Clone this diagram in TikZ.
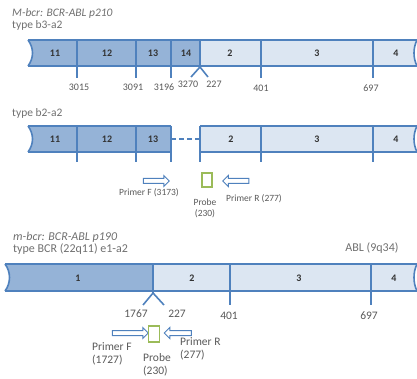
\documentclass[tikz,border=0pt]{standalone}
\usepackage{fontspec}
\setmainfont{Carlito}
\usetikzlibrary{shapes.arrows}
\definecolor{bcr}{HTML}{95B3D7}
\definecolor{abl}{HTML}{DCE6F2}
\definecolor{edge}{HTML}{4F81BD}
\definecolor{probe}{HTML}{9BBB59}
\definecolor{txt}{HTML}{595959}
\definecolor{ttlc}{HTML}{6F6F6F}
\begin{document}
\begin{tikzpicture}[x=1pt,y=-1pt,
  bline/.style={draw=edge,line width=1.6pt},
  tline/.style={draw=edge,line width=1.6pt},
  exon/.style={font=\fontsize{10}{11}\selectfont\bfseries,text=black!80,inner sep=0pt},
  num/.style={font=\fontsize{10}{11}\selectfont,text=txt,inner sep=0pt},
  numb/.style={font=\fontsize{11.5}{13}\selectfont,text=txt,inner sep=0pt},
  ttl/.style={font=\fontsize{11.5}{12}\selectfont,text=ttlc,anchor=west,inner sep=0pt},
  ttlb/.style={font=\fontsize{12}{12}\selectfont,text=ttlc,anchor=west,inner sep=0pt},
  ptxt/.style={font=\fontsize{9.5}{11}\selectfont,text=txt,inner sep=0pt,align=center},
  ptxtb/.style={font=\fontsize{11.5}{13}\selectfont,text=txt,inner sep=0pt,align=left},
  primer/.style={single arrow,draw=edge,fill=white,line width=1pt,minimum height=26pt,
    minimum width=11pt,single arrow head extend=3pt,inner sep=2pt},
  probebox/.style={draw=probe,line width=1.6pt,fill=white,minimum width=10pt,minimum height=14pt,inner sep=0pt}
]
\useasboundingbox (0,0) rectangle (417,379);

% ---------------- Bar 1: type b3-a2 ----------------
\node[ttl] (t1) at (12,13) {\textit{M-bcr: BCR-ABL p210}};
\node[ttl] (t1b) at (12,25) {type b3-a2};
\fill[bcr] (28,40) -- (200,40) -- (200,66) -- (28,66) .. controls (34,58) and (34,48) .. (28,40) -- cycle;
\fill[abl] (200,40) -- (417,40) .. controls (413,48) and (413,58) .. (417,66) -- (200,66) -- cycle;
\draw[bline] (28,40) -- (417,40);
\draw[bline] (28,66) -- (417,66);
\draw[bline] (28,40) .. controls (34,48) and (34,58) .. (28,66);
\draw[bline] (417,40) .. controls (413,48) and (413,58) .. (417,66);
\foreach \x in {77,136,171,261,373} \draw[tline] (\x,40) -- (\x,78);
\draw[tline] (200,40) -- (200,67);
\coordinate (v1) at (200,67);
\coordinate (v1l) at (191,77);
\coordinate (v1r) at (208,77);
\draw[tline] (v1l) -- (v1) -- (v1r);
\node[exon] (e11a) at (55,53) {11};
\node[exon] (e12a) at (107,53) {12};
\node[exon] (e13a) at (153,53) {13};
\node[exon] (e14a) at (186,53) {14};
\node[exon] (e2a) at (230,53) {2};
\node[exon] (e3a) at (317,53) {3};
\node[exon] (e4a) at (396,53) {4};
\node[num] (n3015) at (79,87) {3015};
\node[num] (n3091) at (133,87) {3091};
\node[num] (n3196) at (164,87) {3196};
\node[num] (n3270) at (188,84) {3270};
\node[num] (n227a) at (214,84) {227};
\node[num] (n401a) at (261,88) {401};
\node[num] (n697a) at (371,88) {697};

% ---------------- Bar 2: type b2-a2 ----------------
\node[ttl] (t2) at (12,113) {type b2-a2};
\fill[bcr] (28,126) -- (171,126) -- (171,152) -- (28,152) .. controls (34,144) and (34,134) .. (28,126) -- cycle;
\fill[abl] (200,126) -- (417,126) .. controls (413,134) and (413,144) .. (417,152) -- (200,152) -- cycle;
\draw[bline] (28,126) -- (171,126);
\draw[bline] (28,152) -- (171,152);
\draw[bline] (200,126) -- (417,126);
\draw[bline] (200,152) -- (417,152);
\draw[bline] (28,126) .. controls (34,134) and (34,144) .. (28,152);
\draw[bline] (417,126) .. controls (413,134) and (413,144) .. (417,152);
\foreach \x in {77,136,171,200,261,373} \draw[tline] (\x,126) -- (\x,162);
\draw[edge,line width=1.6pt,dash pattern=on 5pt off 3pt] (171,139) -- (200,139);
\node[exon] (e11b) at (55,139) {11};
\node[exon] (e12b) at (107,139) {12};
\node[exon] (e13b) at (153,139) {13};
\node[exon] (e2b) at (231,139) {2};
\node[exon] (e3b) at (317,139) {3};
\node[exon] (e4b) at (396,139) {4};
\node[primer] (pf1) at (155,181) {};
\node[probebox] (pb1) at (207,180) {};
\node[primer,shape border rotate=180] (pr1) at (237,181) {};
\node[ptxt] (pf1t) at (149,193) {Primer F (3173)};
\node[ptxt] (pb1t) at (205,208) {Probe\\(230)};
\node[ptxt] (pr1t) at (254,199) {Primer R (277)};

% ---------------- Bar 3: e1-a2 ----------------
\node[ttlb] (t3) at (13,237) {\textit{m-bcr: BCR-ABL p190}};
\node[ttlb] (t3b) at (13,249) {type BCR (22q11) e1-a2};
\node[ttlb,anchor=center] (abl) at (372,248) {ABL (9q34)};
\fill[bcr] (5,264) -- (153,264) -- (153,291) -- (5,291) .. controls (11,283) and (11,272) .. (5,264) -- cycle;
\fill[abl] (153,264) -- (417,264) .. controls (413,272) and (413,283) .. (417,291) -- (153,291) -- cycle;
\draw[bline] (5,264) -- (417,264);
\draw[bline] (5,291) -- (417,291);
\draw[bline] (5,264) .. controls (11,272) and (11,283) .. (5,291);
\draw[bline] (417,264) .. controls (413,272) and (413,283) .. (417,291);
\foreach \x in {230,371} \draw[tline] (\x,264) -- (\x,305);
\draw[tline] (153,264) -- (153,293);
\coordinate (v3) at (153,293);
\coordinate (v3l) at (143,305);
\coordinate (v3r) at (164,305);
\draw[tline] (v3l) -- (v3) -- (v3r);
\node[exon] (e1c) at (78,278) {1};
\node[exon] (e2c) at (192,278) {2};
\node[exon] (e3c) at (299,278) {3};
\node[exon] (e4c) at (394,278) {4};
\node[numb] (n1767) at (136,314) {1767};
\node[numb] (n227c) at (177,314) {227};
\node[numb] (n401c) at (229,316) {401};
\node[numb] (n697c) at (369,316) {697};
\node[primer,minimum height=36pt] (pf2) at (129,333) {};
\node[probebox,minimum width=11pt,minimum height=16pt] (pb2) at (154,334) {};
\node[primer,minimum height=27pt,shape border rotate=180] (pr2) at (179,333) {};
\node[ptxtb,anchor=north west] (pf2t) at (92,342) {Primer F\\(1727)};
\node[ptxtb,anchor=north west] (pb2t) at (143,353) {Probe\\(230)};
\node[ptxtb,anchor=north west] (pr2t) at (180,337) {Primer R\\(277)};
\end{tikzpicture}
\end{document}
